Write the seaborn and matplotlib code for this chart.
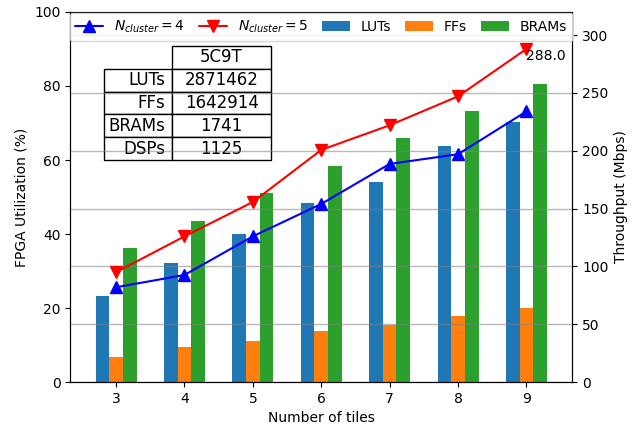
import matplotlib
matplotlib.use("Agg")
import matplotlib.pyplot as plt
import seaborn as sns
import pandas as pd
import numpy as np

tiles = [3, 4, 5, 6, 7, 8, 9]
luts = [23.2, 32.2, 40.0, 48.4, 54.0, 63.8, 70.3]
ffs = [6.8, 9.5, 11.1, 13.8, 15.4, 17.8, 20.0]
brams = [36.2, 43.5, 51.0, 58.4, 66.0, 73.2, 80.5]
thr_n4 = [82, 92.6, 126, 154, 188.6, 197, 234]
thr_n5 = [95, 126, 155.7, 200.7, 222, 247, 288]

table_rows = ["LUTs", "FFs", "BRAMs", "DSPs"]
table_col = ["5C9T"]
table_vals = ["2871462", "1642914", "1741", "1125"]

sns.set_style("ticks", {"axes.edgecolor": "black", "text.color": "black",
                        "axes.labelcolor": "black", "xtick.color": "black",
                        "ytick.color": "black"})
plt.rcParams['font.family'] = ['DejaVu Sans']

df = pd.DataFrame({
    "tiles": tiles * 3,
    "util": luts + ffs + brams,
    "res": ["LUTs"] * 7 + ["FFs"] * 7 + ["BRAMs"] * 7,
})

fig = plt.figure(figsize=(6.33, 4.26), dpi=100)
ax = fig.add_axes([0.111, 0.103, 0.793, 0.869])
sns.barplot(data=df, x="tiles", y="util", hue="res", order=tiles,
            hue_order=["LUTs", "FFs", "BRAMs"],
            palette=["#1f77b4", "#ff7f0e", "#2ca02c"], saturation=1,
            width=0.6, errorbar=None, legend=False, linewidth=0,
            edgecolor="none", ax=ax)
ax.set_ylim(0, 100)
ax.set_yticks([0, 20, 40, 60, 80, 100])
ax.set_xlim(-0.67, 6.67)
ax.set_xlabel("Number of tiles", fontsize=10)
ax.set_ylabel("FPGA Utilization (%)", fontsize=10)
ax.tick_params(labelsize=10)

tab = ax.table(cellText=[[v] for v in table_vals], rowLabels=table_rows,
               colLabels=table_col, cellLoc="center", rowLoc="right",
               colLoc="center", colWidths=[0.197],
               bbox=[0.203, 0.6, 0.197, 0.308])
tab.auto_set_font_size(False)
tab.set_fontsize(12)
for (r, c), cell in tab.get_celld().items():
    if c == -1:
        cell.set_width(0.137)

ax2 = ax.twinx()
xpos = np.arange(len(tiles))
l1, = ax2.plot(xpos, thr_n4, color="blue", marker="^", markersize=8, lw=1.5,
               label=r"$N_{cluster}=4$")
l2, = ax2.plot(xpos, thr_n5, color="red", marker="v", markersize=8, lw=1.5,
               label=r"$N_{cluster}=5$")
ax2.text(xpos[-1], thr_n5[-1], f"{thr_n5[-1]:.1f}", ha="left", va="top", fontsize=10)
ax2.set_ylim(0, 320)
ax2.set_yticks([0, 50, 100, 150, 200, 250, 300])
ax2.set_ylabel("Throughput (Mbps)", fontsize=10)
ax2.tick_params(labelsize=10)
ax2.grid(True, axis="y", color="gray", alpha=0.55, lw=1)

bars = ax.containers
handles = [l1, l2] + [bars[0], bars[1], bars[2]]
labels = [r"$N_{cluster}=4$", r"$N_{cluster}=5$", "LUTs", "FFs", "BRAMs"]
ax2.legend(handles, labels, loc="upper center", ncol=5, fontsize=10,
           borderaxespad=0.1, columnspacing=1.0)

fig.savefig("out.png", dpi=100)
